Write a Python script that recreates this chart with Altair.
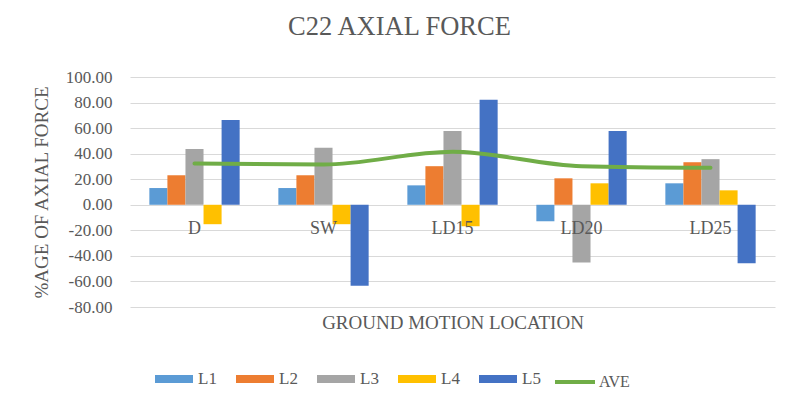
import altair as alt
import pandas as pd

categories = ["D", "SW", "LD15", "LD20", "LD25"]
series = ["L1", "L2", "L3", "L4", "L5"]
L1 = [13.1, 13.1, 15.2, -12.9, 16.8]
L2 = [23.1, 23.1, 30.2, 20.7, 33.3]
L3 = [43.6, 44.6, 57.7, -45.1, 35.7]
L4 = [-15.2, -15.2, -16.8, 16.8, 11.3]
L5 = [66.4, -63.3, 82.2, 57.7, -45.7]
AVE = [32.3, 31.5, 41.5, 30.2, 28.9]
y_ticks = [-80, -60, -40, -20, 0, 20, 40, 60, 80, 100]
bar_colors = ["#5B9BD5", "#ED7D31", "#A5A5A5", "#FFC000", "#4472C4"]
ave_color = "#70AD47"

FONT = "Liberation Serif"
TXT = "#595959"

rows = []
for name, vals in zip(series, [L1, L2, L3, L4, L5]):
    for c, v in zip(categories, vals):
        rows.append({"cat": c, "series": name, "value": v})
bars_df = pd.DataFrame(rows)
ave_df = pd.DataFrame({"cat": categories, "series": ["AVE"] * 5, "value": AVE})
lab_df = pd.DataFrame({"cat": categories, "zero": [0] * 5})

xscale = alt.Scale(domain=categories, paddingInner=0.3, paddingOuter=0.15)
yscale = alt.Scale(domain=[-80, 100], nice=False, zero=False)

x_axis = alt.Axis(labels=False, ticks=False, domain=False, grid=False,
                  title="GROUND MOTION LOCATION", titleFont=FONT, titleFontSize=19,
                  titleFontWeight="normal", titleColor=TXT, titlePadding=6)
y_axis = alt.Axis(values=y_ticks, labelExpr="replace(format(datum.value, '.2f'), '\u2212', '-')",
                  domain=False, ticks=False, grid=True, gridColor="#D9D9D9", gridWidth=1,
                  labelOverlap=False, labelFont=FONT, labelFontSize=17, labelColor=TXT,
                  labelPadding=18, title="%AGE OF AXIAL FORCE", titleFont=FONT,
                  titleFontSize=19, titleFontWeight="normal", titleColor=TXT, titlePadding=14)

bars = alt.Chart(bars_df).mark_bar().encode(
    x=alt.X("cat:N", scale=xscale, sort=categories, axis=x_axis),
    xOffset=alt.XOffset("series:N", sort=series, scale=alt.Scale(domain=series, paddingInner=0, paddingOuter=0)),
    y=alt.Y("value:Q", scale=yscale, axis=y_axis),
    fill=alt.Fill("series:N", scale=alt.Scale(domain=series, range=bar_colors),
                  legend=alt.Legend(title=None, orient="none", direction="horizontal",
                                    legendX=25, legendY=283, symbolType="M-1,-0.21H1V0.21H-1Z",
                                    symbolSize=1444, symbolStrokeWidth=0, labelFont=FONT,
                                    labelFontSize=17, labelColor=TXT, labelOffset=5,
                                    columnPadding=19, padding=0)),
)

line = alt.Chart(ave_df).mark_line(strokeWidth=4, interpolate="monotone", strokeCap="round").encode(
    x=alt.X("cat:N", scale=xscale, sort=categories, axis=x_axis),
    y=alt.Y("value:Q", scale=yscale, axis=y_axis),
    stroke=alt.Stroke("series:N", scale=alt.Scale(domain=["AVE"], range=[ave_color]),
                      legend=alt.Legend(title=None, orient="none", legendX=423, legendY=283,
                                        symbolType="stroke", symbolSize=1600, symbolStrokeWidth=4,
                                        labelFont=FONT, labelFontSize=16, labelColor=TXT,
                                        labelOffset=2, padding=0)),
)

labels = alt.Chart(lab_df).mark_text(font=FONT, fontSize=18, color=TXT, baseline="middle", dy=24).encode(
    x=alt.X("cat:N", scale=xscale, sort=categories, axis=x_axis),
    y=alt.Y("zero:Q", scale=yscale, axis=y_axis),
    text="cat:N",
)

chart = alt.layer(bars, line, labels).properties(
    width=645, height=230,
    title=alt.TitleParams("C22 AXIAL FORCE", font=FONT, fontSize=26.5, fontWeight="normal",
                          color=TXT, offset=28, dx=-53),
    autosize=alt.AutoSizeParams(type="none"),
    padding={"left": 122, "top": 69, "right": 13, "bottom": 93},
    background="white",
).configure_view(stroke=None)

chart.save("out.html", embed_options={"renderer": "svg", "actions": False})
